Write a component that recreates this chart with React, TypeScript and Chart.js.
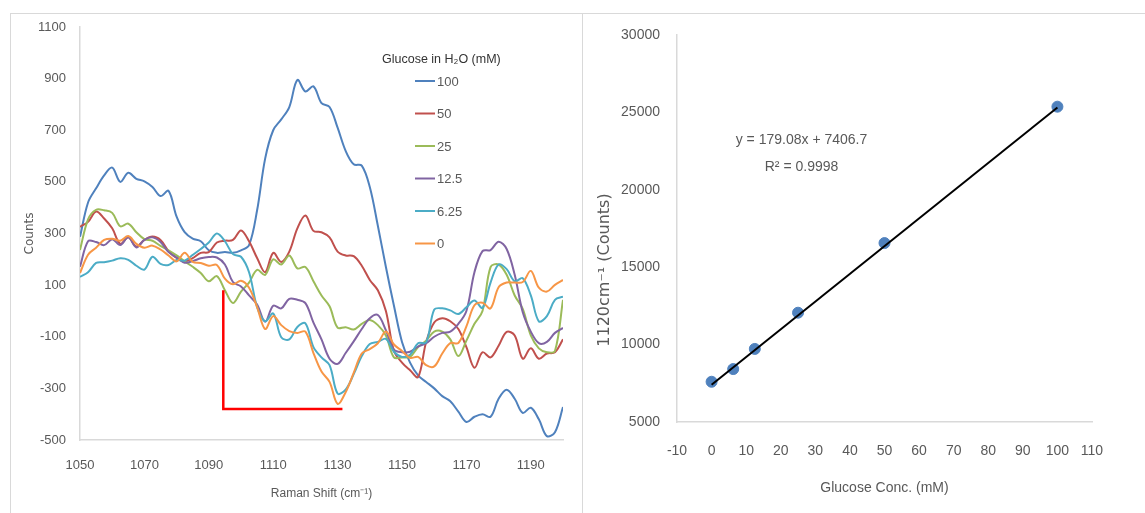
import React, { useEffect, useRef } from "react";
import { Chart, registerables } from "chart.js";

Chart.register(...registerables);

// ---------- Left panel: Raman spectra ----------
const ramanShift = [
  1050, 1052.5, 1055, 1057.5, 1060, 1062.5, 1065, 1067.5, 1070, 1072.5,
  1075, 1077.5, 1080, 1082.5, 1085, 1087.5, 1090, 1092.5, 1095, 1097.5,
  1100, 1102.5, 1105, 1107.5, 1110, 1112.5, 1115, 1117.5, 1120, 1122.5,
  1125, 1127.5, 1130, 1132.5, 1135, 1137.5, 1140, 1142.5, 1145, 1147.5,
  1150, 1152.5, 1155, 1157.5, 1160, 1162.5, 1165, 1167.5, 1170, 1172.5,
  1175, 1177.5, 1180, 1182.5, 1185, 1187.5, 1190, 1192.5, 1195, 1197.5, 1200,
];

const glucose100 = [287, 420, 475, 525, 555, 500, 535, 512, 502, 480, 445, 465, 365, 305, 280, 270, 235, 225, 228, 225, 235, 255, 390, 590, 700, 742, 790, 895, 850, 870, 805, 790, 710, 620, 568, 563, 480, 330, 170, 20, -120, -200, -250, -275, -300, -330, -350, -390, -430, -410, -400, -410, -340, -305, -340, -395, -375, -420, -485, -470, -372];
const glucose50 = [326, 345, 385, 358, 320, 260, 285, 250, 275, 288, 275, 232, 205, 192, 205, 225, 228, 265, 272, 275, 312, 270, 205, 150, 225, 190, 230, 320, 370, 310, 305, 285, 230, 215, 212, 175, 120, 80, 0, -155, -200, -230, -256, -120, -45, -28, -40, -70, -140, -220, -160, -180, -135, -81, -95, -185, -145, -185, -165, -160, -110];
const glucose25 = [236, 355, 392, 390, 380, 328, 338, 305, 278, 272, 252, 235, 215, 192, 171, 147, 115, 135, 80, 31, 75, 110, 159, 140, 200, 180, 215, 165, 170, 115, 60, 18, -65, -63, -72, -50, -35, -55, -95, -180, -180, -178, -140, -115, -80, -80, -110, -175, -115, -50, 0, 170, 180, 140, 60, 8, -95, -145, -160, -155, 43];
const glucose12_5 = [171, 270, 267, 255, 278, 255, 285, 246, 275, 285, 267, 228, 207, 187, 193, 204, 209, 207, 180, 112, 95, 60, 25, -42, 20, 10, 47, 43, 30, -45, -110, -185, -205, -163, -118, -70, -28, -16, -75, -150, -160, -158, -138, -125, -100, -85, -80, -50, 0, 150, 232, 236, 268, 240, 140, -5, -80, -125, -120, -85, -66];
const glucose6_25 = [132, 150, 186, 189, 195, 204, 198, 175, 160, 210, 182, 178, 197, 195, 217, 240, 265, 300, 270, 220, 210, 150, 15, -40, -10, -102, -110, -62, -48, -140, -180, -210, -320, -305, -245, -175, -128, -120, -108, -158, -178, -170, -125, -122, 5, 10, 2, -12, 14, 40, 12, 110, 180, 162, 115, 127, 60, -40, -20, 43, 55];
const glucose0 = [147, 218, 245, 275, 280, 272, 290, 260, 245, 253, 238, 215, 192, 225, 190, 186, 175, 178, 125, 103, 117, 90, 15, -70, -20, -55, -78, -85, -80, -163, -235, -275, -360, -315, -240, -165, -148, -125, -80, -130, -155, -182, -178, -210, -215, -165, -125, -124, -60, 22, 32, 10, 92, 110, 110, 112, 155, 90, 75, 101, 120];

const seriesLabels = ["100", "50", "25", "12.5", "6.25", "0"];
const seriesValues = [glucose100, glucose50, glucose25, glucose12_5, glucose6_25, glucose0];
const seriesColors = ["#4F81BD", "#C0504D", "#9BBB59", "#8064A2", "#4BACC6", "#F79646"];

const bracketX = [1094.5, 1094.5, 1131.5];
const bracketY = [80, -380, -380];

const leftXTicks = [1050, 1070, 1090, 1110, 1130, 1150, 1170, 1190];
const leftYTicks = [-500, -300, -100, 100, 300, 500, 700, 900, 1100];

// ---------- Right panel: calibration ----------
const concentration = [0, 6.25, 12.5, 25, 50, 100];
const intensity1120 = [7600, 8420, 9720, 12060, 16560, 25370];
const fitSlope = 179.08;
const fitIntercept = 7406.7;
const fitRange = [0, 100];
const rightXTicks = [-10, 0, 10, 20, 30, 40, 50, 60, 70, 80, 90, 100, 110];
const rightYTicks = [5000, 10000, 15000, 20000, 25000, 30000];

const SANS = "'Liberation Sans', Arial, sans-serif";
const DEJAVU = "'DejaVu Sans', sans-serif";
const GREY = "#595959";
const AXIS = "#D9D9D9";
const plain = (v: any) => String(v);

const legendPlugin = {
  id: "insideLegend",
  afterDraw(chart: any) {
    const ctx = chart.ctx;
    ctx.save();
    ctx.fillStyle = "#333333";
    ctx.font = `12.5px ${SANS}`;
    ctx.textBaseline = "middle";
    ctx.textAlign = "left";
    ctx.fillText("Glucose in H\u2082O (mM)", 382, 60);
    ctx.font = `13px ${SANS}`;
    seriesLabels.forEach((lab, i) => {
      const y = 81 + i * 32.5;
      ctx.strokeStyle = seriesColors[i];
      ctx.lineWidth = 2;
      ctx.beginPath();
      ctx.moveTo(415, y);
      ctx.lineTo(435, y);
      ctx.stroke();
      ctx.fillStyle = GREY;
      ctx.fillText(lab, 437, y + 1);
    });
    ctx.restore();
  },
};

const equationPlugin = {
  id: "equationText",
  afterDraw(chart: any) {
    const ctx = chart.ctx;
    const xs = chart.scales.x;
    const ys = chart.scales.y;
    const px = xs.getPixelForValue(26);
    const py = ys.getPixelForValue(23200);
    ctx.save();
    ctx.fillStyle = GREY;
    ctx.font = `14px ${SANS}`;
    ctx.textAlign = "center";
    ctx.textBaseline = "middle";
    ctx.fillText(`y = ${fitSlope}x + ${fitIntercept}`, px, py);
    ctx.fillText("R\u00B2 = 0.9998", px, py + 27);
    // y-axis title
    ctx.translate(25, 270);
    ctx.rotate(-Math.PI / 2);
    ctx.font = `16px ${DEJAVU}`;
    ctx.fillText("1120cm\u207B\u00B9 (Counts)", 0, 0);
    ctx.restore();
  },
};

function LeftChart() {
  const ref = useRef<HTMLCanvasElement>(null);
  useEffect(() => {
    const datasets: any[] = seriesValues.map((vals, i) => ({
      label: seriesLabels[i],
      data: vals.map((v, j) => ({ x: ramanShift[j], y: v })),
      borderColor: seriesColors[i],
      borderWidth: 2,
      pointRadius: 0,
      tension: 0.35,
      fill: false,
      order: 6 - i,
    }));
    datasets.push({
      label: "bracket",
      data: bracketX.map((x, j) => ({ x, y: bracketY[j] })),
      borderColor: "#FF0000",
      borderWidth: 2.5,
      pointRadius: 0,
      tension: 0,
      fill: false,
      order: -1,
    });
    const chart = new Chart(ref.current!, {
      type: "line",
      data: { datasets },
      plugins: [legendPlugin],
      options: {
        animation: false,
        responsive: false,
        layout: { padding: { top: 27, right: 17, left: 19, bottom: 8 } },
        plugins: { legend: { display: false }, tooltip: { enabled: false } },
        scales: {
          x: {
            type: "linear",
            min: 1050,
            max: 1200,
            grid: { display: false, drawTicks: false },
            border: { display: true, color: AXIS, width: 1.5 },
            ticks: { font: { family: SANS, size: 13 }, color: GREY, padding: 18, maxRotation: 0, callback: plain },
            title: { display: true, text: "Raman Shift (cm\u207B\u00B9)", font: { family: SANS, size: 12 }, color: GREY },
            afterBuildTicks: (a: any) => { a.ticks = leftXTicks.map((v) => ({ value: v })); },
            afterFit: (s: any) => { s.height = 65; },
          },
          y: {
            type: "linear",
            min: -500,
            max: 1100,
            grid: { display: false, drawTicks: false },
            border: { display: true, color: AXIS, width: 1.5 },
            ticks: { font: { family: SANS, size: 13 }, color: GREY, padding: 14, callback: plain },
            title: { display: true, text: "Counts", font: { family: DEJAVU, size: 12 }, color: GREY },
            afterBuildTicks: (a: any) => { a.ticks = leftYTicks.map((v) => ({ value: v })); },
            afterFit: (s: any) => { s.width = 61; },
          },
        },
      } as any,
    });
    return () => chart.destroy();
  }, []);
  return <canvas ref={ref} width={580} height={513} style={{ position: "absolute", left: 0, top: 0 }} />;
}

function RightChart() {
  const ref = useRef<HTMLCanvasElement>(null);
  useEffect(() => {
    const chart = new Chart(ref.current!, {
      type: "scatter",
      data: {
        datasets: [
          {
            label: "fit",
            type: "line",
            data: fitRange.map((x) => ({ x, y: fitSlope * x + fitIntercept })),
            borderColor: "#000000",
            borderWidth: 2,
            pointRadius: 0,
            order: 0,
          } as any,
          {
            label: "1120",
            data: concentration.map((x, i) => ({ x, y: intensity1120[i] })),
            backgroundColor: "#4F81BD",
            borderColor: "#4F81BD",
            pointRadius: 5.5,
            order: 1,
          },
        ],
      },
      plugins: [equationPlugin],
      options: {
        animation: false,
        responsive: false,
        layout: { padding: { top: 35, right: 53, left: 12, bottom: 12 } },
        plugins: { legend: { display: false }, tooltip: { enabled: false } },
        scales: {
          x: {
            type: "linear",
            min: -10,
            max: 110,
            grid: { display: false, drawTicks: false },
            border: { display: true, color: AXIS, width: 1.5 },
            ticks: { font: { family: SANS, size: 14 }, color: GREY, padding: 21, maxRotation: 0, callback: plain },
            title: { display: true, text: "Glucose Conc. (mM)", font: { family: SANS, size: 14 }, color: GREY },
            afterBuildTicks: (a: any) => { a.ticks = rightXTicks.map((v) => ({ value: v })); },
            afterFit: (s: any) => { s.height = 79; },
          },
          y: {
            type: "linear",
            min: 5000,
            max: 30000,
            grid: { display: false, drawTicks: false },
            border: { display: true, color: AXIS, width: 1.5 },
            ticks: { font: { family: SANS, size: 14 }, color: GREY, padding: 17, callback: plain },
            afterBuildTicks: (a: any) => { a.ticks = rightYTicks.map((v) => ({ value: v })); },
            afterFit: (s: any) => { s.width = 85; },
          },
        },
      } as any,
    });
    return () => chart.destroy();
  }, []);
  return <canvas ref={ref} width={565} height={513} style={{ position: "absolute", left: 580, top: 0 }} />;
}

export default function App() {
  return (
    <div style={{ position: "fixed", left: 0, top: 0, width: 1145, height: 513, background: "#FFFFFF", overflow: "hidden" }}>
      <div style={{ position: "absolute", left: 10, top: 13, width: 580, height: 520, borderLeft: `1.5px solid ${AXIS}`, borderTop: `1.5px solid ${AXIS}` }} />
      <div style={{ position: "absolute", left: 582, top: 13, width: 600, height: 520, borderLeft: `1.5px solid ${AXIS}`, borderTop: `1.5px solid ${AXIS}` }} />
      <LeftChart />
      <RightChart />
    </div>
  );
}
